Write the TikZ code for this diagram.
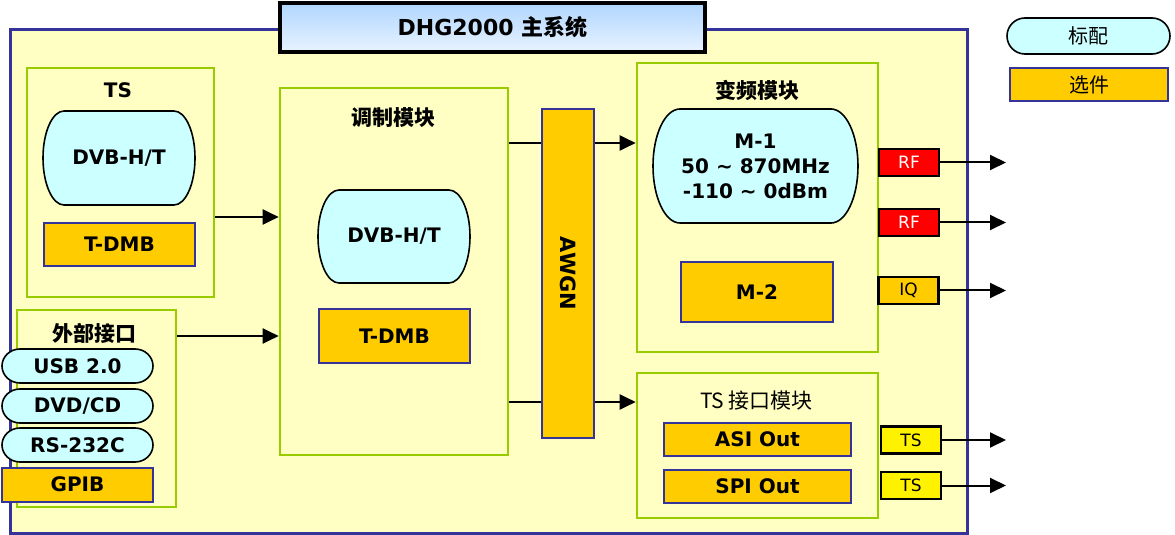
\documentclass[tikz,border=0pt]{standalone}
\usepackage{fontspec}
\setmainfont{DejaVu Sans}
\newfontfamily\cjk{Noto Sans CJK SC}
\usepackage{tikz}
\usetikzlibrary{arrows.meta, positioning}
\usepackage{xcolor}
\definecolor{bgyellow}{HTML}{FFFFC4}
\definecolor{framegreen}{HTML}{99CC00}
\definecolor{frameblue}{HTML}{333399}
\definecolor{optorange}{HTML}{FFCC00}
\definecolor{stdcyan}{HTML}{CCFFFF}
\definecolor{titletop}{HTML}{B0D6FF}
\definecolor{titlebot}{HTML}{E8F3FF}
\tikzset{
	modbox/.style={draw=framegreen, line width=1.3pt, fill=bgyellow, inner sep=0pt},
	capline/.style={draw=black, line width=0.8pt, fill=stdcyan},
	captext/.style={inner sep=0pt, font=\fontsize{10}{12.5}\selectfont\bfseries, align=center},
	optbox/.style={draw=frameblue, line width=1pt, fill=optorange, inner sep=0pt, font=\fontsize{10}{12}\selectfont\bfseries},
	port/.style={draw=black, line width=1.3pt, inner sep=0pt, minimum width=30pt, minimum height=13.5pt, font=\fontsize{8.5}{10}\selectfont},
	boxtitle/.style={font=\fontsize{10.5}{12}\selectfont\cjk\bfseries},
	sig/.style={line width=1pt, -{Triangle[length=8pt,width=7.5pt]}}
}
% name, x, y, half width, half height, side radius (pt), text
\newcommand{\capsule}[7]{
	\begin{scope}[shift={(#2,#3)}, x=1pt, y=1pt]
		\filldraw[capline] (-#4+#6,#5) -- (#4-#6,#5) arc[start angle=90, end angle=-90, x radius=#6, y radius=#5] -- (-#4+#6,-#5) arc[start angle=270, end angle=90, x radius=#6, y radius=#5] -- cycle;
		\node[captext] (#1) at (0,0) {#7};
	\end{scope}
}
\begin{document}
\begin{tikzpicture}[x=0.5pt, y=-0.5pt]
	\useasboundingbox (0,0) rectangle (1175,535);
	\node[draw=frameblue, line width=1.5pt, fill=bgyellow, minimum width=478.5pt, minimum height=251.5pt] (mainsys) at (488.5,281.5) {};
	\node[draw=black, line width=1.8pt, top color=titletop, bottom color=titlebot, minimum width=212.5pt, minimum height=24.5pt, font=\fontsize{11}{13}\selectfont\bfseries] (maintitle) at (492.5,27.5) {DHG2000 {\cjk 主系统}};
	\capsule{legstd}{1088.5}{36}{40.75}{9}{9}{\fontsize{10}{12}\selectfont\cjk\mdseries 标配}
	\node[optbox, minimum width=79pt, minimum height=16.5pt, font=\fontsize{10}{12}\selectfont\cjk] (legopt) at (1089,84.5) {选件};
	\node[modbox, minimum width=93.5pt, minimum height=114.5pt] (tsbox) at (120.5,182.5) {};
	\node[font=\fontsize{10}{12}\selectfont\bfseries] (tstitle) at (118,90) {TS};
	\capsule{tsdvb}{119}{158}{38}{23.5}{10.5}{DVB-H/T}
	\node[optbox, minimum width=75.5pt, minimum height=21.5pt] (tsdmb) at (119.5,244.5) {T-DMB};
	\node[modbox, minimum width=79.5pt, minimum height=98.5pt] (extbox) at (96.5,408.5) {};
	\node[boxtitle] (exttitle) at (95,333) {外部接口};
	\capsule{usb}{77.5}{366}{37.75}{8.5}{9}{USB 2.0}
	\capsule{dvd}{77.5}{406}{37.75}{8.5}{9}{DVD/CD}
	\capsule{rs}{77.5}{445}{37.75}{8.5}{9}{RS-232C}
	\node[optbox, minimum width=75.5pt, minimum height=17pt] (gpib) at (77.5,484.5) {GPIB};
	\node[modbox, minimum width=114pt, minimum height=183.5pt] (modbox) at (394,271.5) {};
	\node[boxtitle] (modtitle) at (393.5,118) {调制模块};
	\capsule{moddvb}{394}{236.5}{38}{23.25}{10.5}{DVB-H/T}
	\node[optbox, minimum width=75.5pt, minimum height=27pt] (moddmb) at (394.5,336) {T-DMB};
	\node[modbox, minimum width=120.5pt, minimum height=144.5pt] (fmbox) at (757.5,207.5) {};
	\node[boxtitle] (fmtitle) at (757.5,90) {变频模块};
	\capsule{mone}{755.5}{166}{51.25}{28.5}{13.5}{M-1\\50 \textasciitilde{} 870MHz\\-110 \textasciitilde{} 0dBm}
	\node[optbox, minimum width=76pt, minimum height=30pt] (mtwo) at (757,292) {M-2};
	\node[modbox, minimum width=120.5pt, minimum height=72.5pt] (tsifbox) at (757.5,445.5) {};
	\node[font=\fontsize{10.5}{12}\selectfont\cjk] (tsiftitle) at (756.5,401) {TS 接口模块};
	\node[optbox, minimum width=93.5pt, minimum height=16.5pt] (asi) at (757.5,439.5) {ASI Out};
	\node[optbox, minimum width=93.5pt, minimum height=16.5pt] (spi) at (757.5,486) {SPI Out};
	\draw[sig] (tsbox.east |- 0,217) -- (modbox.west |- 0,217);
	\draw[sig] (extbox.east |- 0,336) -- (modbox.west |- 0,336);
	\draw[sig] (modbox.east |- 0,143) -- (fmbox.west |- 0,143);
	\draw[sig] (modbox.east |- 0,402) -- (tsifbox.west |- 0,402);
	\node[draw=frameblue, line width=1pt, fill=optorange, minimum width=26pt, minimum height=164.5pt] (awgn) at (568,273.5) {};
	\node[rotate=-90, font=\fontsize{10.5}{12}\selectfont\bfseries] (awgntext) at (awgn) {AWGN};
	\node[port, fill=red, text=white] (rfa) at (909,162.5) {RF};
	\node[port, fill=red, text=white] (rfb) at (909,222.5) {RF};
	\node[port, fill=optorange] (iq) at (908.5,290.5) {IQ};
	\node[port, fill=yellow] (tsa) at (911,440) {TS};
	\node[port, fill=yellow] (tsb) at (911,485.5) {TS};
	\foreach \p in {rfa,rfb,iq,tsa,tsb}
		\draw[sig] (\p.east) -- (\p.east -| 1006,0);
\end{tikzpicture}
\end{document}
